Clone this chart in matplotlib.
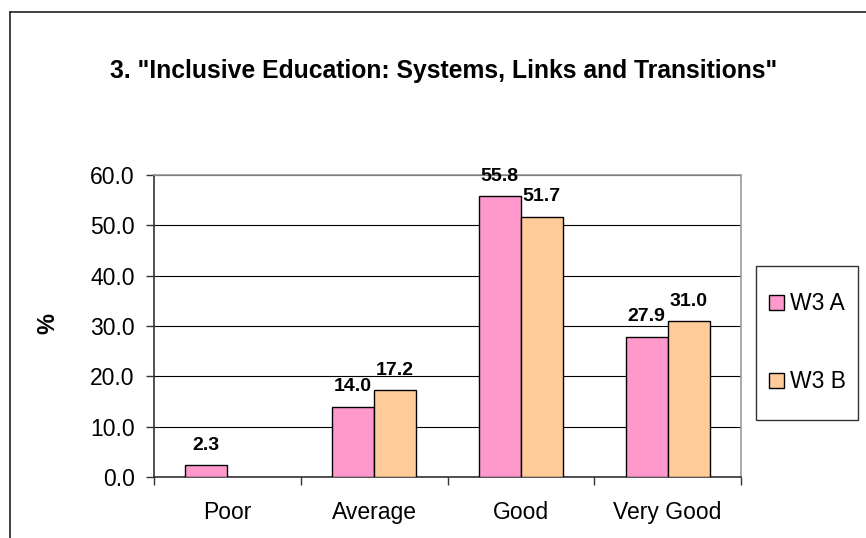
import numpy as np
import matplotlib
matplotlib.use("Agg")
import matplotlib.pyplot as plt
from matplotlib.lines import Line2D
from matplotlib.patches import Patch, Rectangle

plt.rcParams['font.family'] = ['Liberation Sans', 'DejaVu Sans']

categories = ['Poor', 'Average', 'Good', 'Very Good']
w3_a = [2.3, 14.0, 55.8, 27.9]
w3_b = [None, 17.2, 51.7, 31.0]
series_names = ['W3 A', 'W3 B']
colors = ['#FF99CC', '#FFCC99']
title = '3. "Inclusive Education: Systems, Links and Transitions"'

W, H = 866, 538
fig = plt.figure(figsize=(8.66, 5.38), dpi=100)
ax = fig.add_axes([154/W, 1 - 477/H, (741-154)/W, (477-175)/H])

# outer chart border (runs off the right and bottom edges)
fig.add_artist(Line2D([9.5/W, 9.5/W], [-0.1, 1 - 11.5/H], transform=fig.transFigure,
                      color='#222222', lw=1.2))
fig.add_artist(Line2D([9.5/W, 1.1], [1 - 11.5/H, 1 - 11.5/H], transform=fig.transFigure,
                      color='#222222', lw=1.2))

x = np.arange(len(categories))
w = 0.286
vals_b = [np.nan if v is None else v for v in w3_b]
ax.bar(x - w/2, w3_a, w, color=colors[0], edgecolor='black', lw=1.0, zorder=3)
ax.bar(x + w/2, vals_b, w, color=colors[1], edgecolor='black', lw=1.0, zorder=3)

for xs, vals in [(x - w/2, w3_a), (x + w/2, w3_b)]:
    for xi, v in zip(xs, vals):
        if v is None:
            continue
        ax.annotate(f'{v:.1f}', (xi, v), xytext=(0, 11), textcoords='offset points',
                    ha='center', va='baseline', fontsize=14, fontweight='bold')

ax.set_xlim(-0.5, 3.5)
ax.set_ylim(0, 60)
ax.set_yticks(np.arange(0, 61, 10))
ax.set_yticklabels([f'{v:.1f}' for v in np.arange(0, 61, 10)], fontsize=16.5)
ax.yaxis.grid(True, color='black', lw=0.8, zorder=0)
ax.set_axisbelow(True)

ax.set_xticks(x)
ax.set_xticklabels(categories, fontsize=16.5)
ax.set_xticks(np.arange(-0.5, 3.6, 1), minor=True)
ax.tick_params(axis='x', which='major', length=0, pad=17)
ax.tick_params(axis='x', which='minor', length=6, width=1, direction='out', color='#333333')
ax.tick_params(axis='y', length=6, width=1, direction='out', pad=8, color='#333333')

for s in ['top', 'right']:
    ax.spines[s].set_color('#999999')
    ax.spines[s].set_linewidth(1.2)
for s in ['left', 'bottom']:
    ax.spines[s].set_color('#333333')
    ax.spines[s].set_linewidth(1.2)

fig.text(48/W, 1 - 324/H, '%', rotation=90, ha='center', va='center',
         fontsize=17, fontweight='bold')
fig.text(444/W, 1 - 71/H, title, ha='center', va='center',
         fontsize=17.8, fontweight='bold')

# legend box
fig.add_artist(Rectangle((756/W, 1 - 420/H), (858-756)/W, (420-266)/H,
                         transform=fig.transFigure, facecolor='white',
                         edgecolor='#333333', lw=1.0))
handles = [Patch(facecolor=c, edgecolor='black', lw=1.0) for c in colors]
leg = fig.legend(handles, series_names, loc='center',
                 bbox_to_anchor=(807.5/W, 1 - 343/H), bbox_transform=fig.transFigure,
                 fontsize=16.5, frameon=False,
                 handlelength=0.65, handleheight=0.65, handletextpad=0.3,
                 labelspacing=2.4, borderpad=0, borderaxespad=0)

fig.savefig('out.png', dpi=100)
